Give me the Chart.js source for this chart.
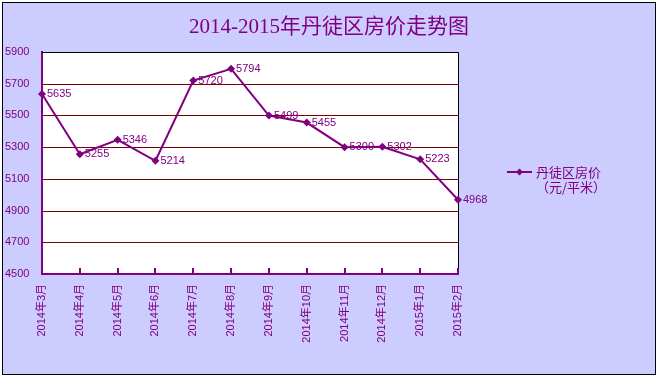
<!DOCTYPE html>
<html>
<head>
<meta charset="utf-8">
<script src="https://cdn.jsdelivr.net/npm/chart.js@4.4.0/dist/chart.umd.min.js"></script>
<style>
  html, body { margin: 0; padding: 0; background: #fff; }
  #c { display: block; }
</style>
</head>
<body>
<canvas id="c" width="658" height="376"></canvas>
<script>
// chart data
const months = ['2014年3月', '2014年4月', '2014年5月', '2014年6月', '2014年7月', '2014年8月',
  '2014年9月', '2014年10月', '2014年11月', '2014年12月', '2015年1月', '2015年2月'];
const prices = [5635, 5255, 5346, 5214, 5720, 5794, 5499, 5455, 5300, 5302, 5223, 4968];
const yMin = 4500;
const yMax = 5900;
const yStep = 200;
const chartTitle = '2014-2015年丹徒区房价走势图';
const seriesName = '丹徒区房价';
const seriesUnit = '（元/平米）';

const PURPLE = '#800080';
const MAROON = '#800000';
const BG = '#ccccff';
const SANS = '"Liberation Sans", "Noto Sans CJK SC", sans-serif';

const yTickValues = [];
for (let v = yMin; v <= yMax; v += yStep) yTickValues.push(v);

// background, frame, title, grid, borders, tick marks, labels, legend
const decorations = {
  id: 'decorations',
  beforeDraw(chart) {
    const { ctx, chartArea } = chart;
    ctx.save();
    ctx.fillStyle = '#fff';
    ctx.fillRect(0, 0, chart.width, chart.height);
    ctx.fillStyle = BG;
    ctx.fillRect(3, 3, chart.width - 6, chart.height - 5);
    ctx.strokeStyle = '#000';
    ctx.lineWidth = 1;
    ctx.strokeRect(2.5, 2.5, chart.width - 5, chart.height - 4);
    // plot area
    ctx.fillStyle = '#fff';
    ctx.fillRect(chartArea.left, chartArea.top, chartArea.right - chartArea.left, chartArea.bottom - chartArea.top);
    // title
    ctx.fillStyle = PURPLE;
    ctx.font = '21px "Liberation Serif", "Noto Sans CJK SC", serif';
    ctx.textAlign = 'center';
    ctx.textBaseline = 'middle';
    ctx.fillText(chartTitle, 329, 27);
    ctx.restore();
  },
  beforeDatasetsDraw(chart) {
    const { ctx, chartArea } = chart;
    const y = chart.scales.y;
    ctx.save();
    ctx.strokeStyle = MAROON;
    ctx.lineWidth = 1;
    ctx.beginPath();
    yTickValues.forEach(v => {
      if (v === yMin || v === yMax) return;
      const py = Math.round(y.getPixelForValue(v)) + 0.5;
      ctx.moveTo(chartArea.left, py);
      ctx.lineTo(chartArea.right, py);
    });
    ctx.stroke();
    // top and right border of plot area
    ctx.strokeStyle = '#000';
    ctx.beginPath();
    ctx.moveTo(chartArea.left, Math.round(chartArea.top) + 0.5);
    ctx.lineTo(Math.round(chartArea.right) + 0.5, Math.round(chartArea.top) + 0.5);
    ctx.lineTo(Math.round(chartArea.right) + 0.5, chartArea.bottom);
    ctx.stroke();
    ctx.restore();
  },
  afterDraw(chart) {
    const { ctx, chartArea } = chart;
    const x = chart.scales.x;
    ctx.save();
    // inner tick marks on the category axis
    ctx.strokeStyle = PURPLE;
    ctx.lineWidth = 2;
    ctx.beginPath();
    months.forEach((m, i) => {
      const px = Math.round(x.getPixelForValue(i));
      ctx.moveTo(px, chartArea.bottom);
      ctx.lineTo(px, chartArea.bottom - 6);
    });
    ctx.stroke();
    ctx.beginPath();
    ctx.moveTo(chartArea.left, chartArea.bottom);
    ctx.lineTo(chartArea.right + 1, chartArea.bottom);
    ctx.stroke();

    // value labels
    const meta = chart.getDatasetMeta(0);
    ctx.fillStyle = PURPLE;
    ctx.font = '11px ' + SANS;
    ctx.textAlign = 'left';
    ctx.textBaseline = 'middle';
    meta.data.forEach((pt, i) => {
      ctx.fillText(String(prices[i]), pt.x + 5, pt.y);
    });

    // legend
    const lx = 507, ly = 172;
    ctx.strokeStyle = PURPLE;
    ctx.lineWidth = 2;
    ctx.beginPath();
    ctx.moveTo(lx, ly);
    ctx.lineTo(lx + 25, ly);
    ctx.stroke();
    ctx.fillStyle = PURPLE;
    ctx.beginPath();
    ctx.moveTo(lx + 12.5, ly - 3.5);
    ctx.lineTo(lx + 16, ly);
    ctx.lineTo(lx + 12.5, ly + 3.5);
    ctx.lineTo(lx + 9, ly);
    ctx.closePath();
    ctx.fill();
    ctx.font = '13px "Noto Sans CJK SC", sans-serif';
    ctx.fillText(seriesName, lx + 29, ly);
    ctx.fillText(seriesUnit, lx + 29, ly + 15);
    ctx.restore();
  }
};

new Chart(document.getElementById('c'), {
  type: 'line',
  data: {
    labels: months,
    datasets: [{
      label: seriesName,
      data: prices,
      borderColor: PURPLE,
      backgroundColor: PURPLE,
      borderWidth: 2,
      tension: 0,
      pointStyle: 'rectRot',
      pointRadius: 4,
      pointBackgroundColor: PURPLE,
      pointBorderColor: PURPLE,
      pointBorderWidth: 0
    }]
  },
  options: {
    responsive: false,
    animation: false,
    devicePixelRatio: 1,
    layout: { padding: { top: 52, left: 5, right: 200, bottom: 0 } },
    plugins: {
      legend: { display: false },
      title: { display: false },
      tooltip: { enabled: false }
    },
    scales: {
      x: {
        offset: false,
        grid: { display: false, drawTicks: false },
        border: { display: false },
        ticks: {
          color: PURPLE,
          font: { family: SANS, size: 11 },
          minRotation: 90,
          maxRotation: 90,
          autoSkip: false,
          padding: 10
        },
        afterFit(scale) { scale.height = 102; }
      },
      y: {
        min: yMin,
        max: yMax,
        afterBuildTicks(scale) {
          scale.ticks = yTickValues.map(v => ({ value: v }));
        },
        grid: { display: false, drawTicks: false },
        border: { display: true, color: PURPLE, width: 2 },
        ticks: {
          color: PURPLE,
          font: { family: SANS, size: 11 },
          crossAlign: 'far',
          padding: 0,
          callback: v => String(v)
        },
        afterFit(scale) { scale.width = 37; }
      }
    }
  },
  plugins: [decorations]
});
</script>
</body>
</html>
